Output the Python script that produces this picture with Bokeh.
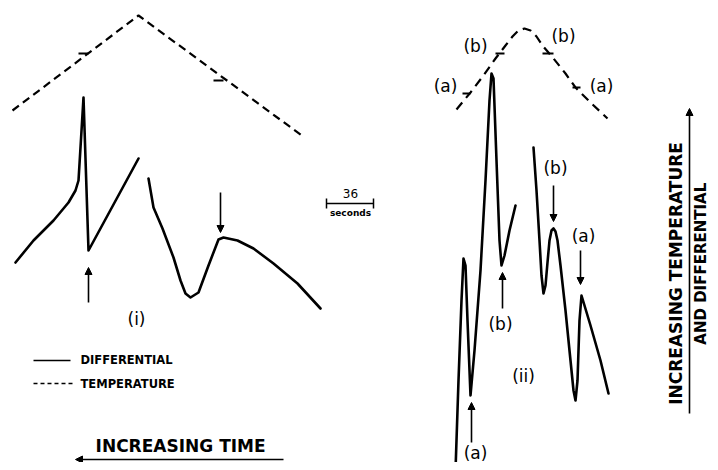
from math import pi
from bokeh.plotting import figure
from bokeh.models import Range1d, Arrow, NormalHead, ColumnDataSource
from bokeh.core.properties import value
from bokeh.embed import file_html
from bokeh.resources import INLINE

# ---- data (in picture-pixel units) ----
# Panel (i)
temp1_x = [12, 138, 304]
temp1_y = [110, 15, 137]
diff1a_x = [15, 33, 53, 68, 75, 78, 80, 83, 88, 138]
diff1a_y = [262, 240, 220, 202, 190, 180, 147, 97, 250, 158]
diff1b_x = [148, 153, 162, 173, 180, 185, 190, 198, 208, 218, 223, 237, 253, 273, 297, 320]
diff1b_y = [178, 207, 228, 257, 280, 293, 297, 292, 265, 239, 237, 240, 248, 263, 283, 308]

# Panel (ii)
temp2_x = [456, 470, 483, 495, 505, 512, 518, 524, 530, 536, 542, 553, 565, 575, 590, 607]
temp2_y = [109, 92, 75, 58, 45, 36, 30, 28, 30, 36, 45, 58, 73, 87, 102, 118]
diff2a_x = [455, 458, 461, 463, 465, 467, 470, 474, 480, 485, 489, 491, 493, 496, 499, 501, 504, 509, 515]
diff2a_y = [470, 380, 300, 258, 265, 320, 395, 350, 270, 180, 100, 73, 78, 160, 240, 265, 255, 230, 205]
diff2b_x = [533, 536, 539, 541, 543, 545, 547, 549, 551, 553, 555, 557, 560, 565, 570, 573, 575, 577, 579, 581, 590, 600, 608]
diff2b_y = [147, 190, 240, 275, 293, 285, 262, 240, 230, 228, 231, 240, 265, 310, 360, 390, 400, 380, 320, 295, 325, 360, 393]

# short marks on the temperature traces
mark_x0 = [78, 213, 462, 495, 542, 572]
mark_x1 = [88, 223, 470, 504, 553, 580]
mark_y = [53, 80, 93, 53, 53, 87]

# arrows
arr_x0 = [88, 220, 502, 471, 553, 580, 689, 283]
arr_y0 = [302, 192, 308, 442, 185, 250, 413, 459]
arr_x1 = [88, 220, 502, 471, 553, 580, 689, 75]
arr_y1 = [267, 232, 272, 402, 221, 284, 108, 459]

# labels
lab_text = ["(b)", "(b)", "(a)", "(a)", "(b)", "(a)", "(b)", "(a)", "(ii)", "(i)"]
lab_x = [475, 563, 445, 601, 555, 583, 500, 475, 523, 136]
lab_y = [45, 35, 85, 85, 167, 235, 323, 452, 375, 318]

FONT = value("DejaVu Sans")

p = figure(width=710, height=462, output_backend="svg", toolbar_location=None,
           x_range=Range1d(0, 710), y_range=Range1d(462, 0), min_border=0)
p.axis.visible = False
p.xgrid.visible = False
p.ygrid.visible = False
p.outline_line_color = None
p.background_fill_color = "white"

# temperature traces
p.line(temp1_x, temp1_y, line_color="black", line_width=2.2, line_dash="8 5")
p.line(temp2_x, temp2_y, line_color="black", line_width=2.2, line_dash="9 6")
p.segment(x0=mark_x0, y0=mark_y, x1=mark_x1, y1=mark_y, line_color="black", line_width=2.2)

# differential traces
for xs, ys in [(diff1a_x, diff1a_y), (diff1b_x, diff1b_y), (diff2a_x, diff2a_y), (diff2b_x, diff2b_y)]:
    p.line(xs, ys, line_color="black", line_width=2.6, line_join="round", line_cap="round")

# arrows
src = ColumnDataSource(dict(x0=arr_x0, y0=arr_y0, x1=arr_x1, y1=arr_y1))
p.add_layout(Arrow(end=NormalHead(size=7, fill_color="black", line_color="black"),
                   x_start="x0", y_start="y0", x_end="x1", y_end="y1",
                   source=src, line_color="black", line_width=1.6))

# labels
p.text(lab_x, lab_y, text=lab_text, text_font=FONT, text_font_size="17px",
       text_align="center", text_baseline="middle", text_color="black")

# scale bar
p.segment(x0=[326], y0=[203], x1=[373], y1=[203], line_color="black", line_width=1.5)
p.segment(x0=[326, 373], y0=[198, 198], x1=[326, 373], y1=[208, 208], line_color="black", line_width=1.5)
p.text([350], [193], text=["36"], text_font=FONT, text_font_size="12px",
       text_align="center", text_baseline="middle")
p.text([350], [212], text=["seconds"], text_font=FONT, text_font_size="9px", text_font_style="bold",
       text_align="center", text_baseline="middle")

# legend
p.line([33, 70], [360, 360], line_color="black", line_width=1.6)
p.line([33, 73], [383, 383], line_color="black", line_width=1.6, line_dash="4 3")
p.text([80, 80], [359, 383], text=["DIFFERENTIAL", "TEMPERATURE"], text_font=FONT,
       text_font_size="11.5px", text_font_style="bold", text_align="left", text_baseline="middle")

# axis captions
p.text([186], [445], text=["INCREASING   TIME"], text_font=FONT, text_font_size="17px",
       text_font_style="bold", text_align="center", text_baseline="middle")
p.text([675], [267], text=["INCREASING   TEMPERATURE"], text_font=FONT, text_font_size="17px",
       text_font_style="bold", text_align="center", text_baseline="middle", angle=pi / 2)
p.text([700], [258], text=["AND   DIFFERENTIAL"], text_font=FONT, text_font_size="15px",
       text_font_style="bold", text_align="center", text_baseline="middle", angle=pi / 2)

open("out.html", "w").write(file_html(p, INLINE))
